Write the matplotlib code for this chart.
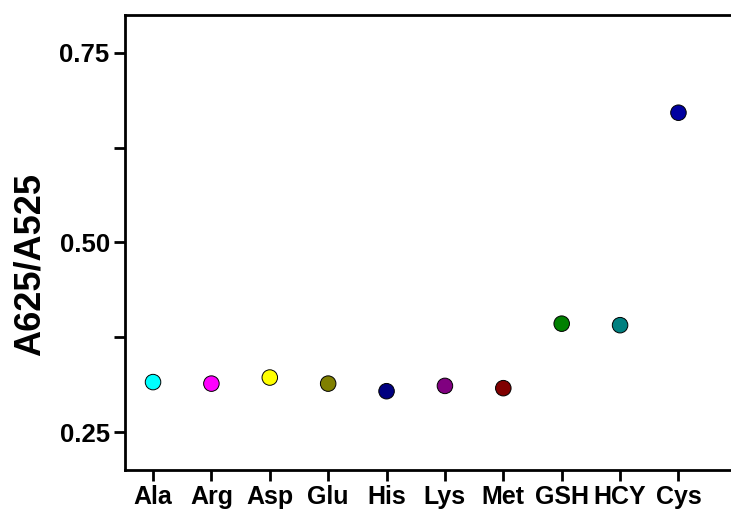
import numpy as np
import matplotlib
matplotlib.use('Agg')
import matplotlib.pyplot as plt
from matplotlib.ticker import MultipleLocator

analytes = ['Ala', 'Arg', 'Asp', 'Glu', 'His', 'Lys', 'Met', 'GSH', 'HCY', 'Cys']
ratio = [0.316, 0.314, 0.322, 0.314, 0.304, 0.311, 0.308, 0.393, 0.391, 0.671]
colors = ['#00FFFF', '#FF00FF', '#FFFF00', '#808000', '#000080',
          '#800080', '#800000', '#008000', '#008080', '#0000A0']

plt.rcParams['font.family'] = ['Liberation Sans', 'DejaVu Sans']
plt.rcParams['font.weight'] = 'bold'

fig = plt.figure(figsize=(7.31, 5.11), dpi=100)
ax = fig.add_axes([0.171, 0.080, 0.829, 0.891])

x = np.arange(len(analytes))
ax.scatter(x, ratio, s=125, c=colors, edgecolors='black', linewidths=0.7, zorder=3)

ax.set_xlim(-0.48, 9.9)
ax.set_ylim(0.2, 0.8)
ax.set_xticks(x)
ax.set_xticklabels(analytes, fontsize=18, fontweight='bold')
ax.yaxis.set_minor_locator(MultipleLocator(0.125))
ax.set_yticks([0.25, 0.5, 0.75])
ax.set_yticklabels(['0.25', '0.50', '0.75'], fontsize=18.5, fontweight='bold')
ax.set_ylabel('A625/A525', fontsize=26, fontweight='bold')
ax.yaxis.set_label_coords(-0.128, 0.452)

ax.spines['right'].set_visible(False)
for s in ['top', 'left', 'bottom']:
    ax.spines[s].set_linewidth(2)
ax.tick_params(axis='both', which='major', direction='out', length=8, width=2, pad=3)
ax.tick_params(axis='y', which='minor', direction='out', length=8, width=2)
ax.tick_params(axis='x', which='minor', bottom=False)

fig.savefig('out.png', dpi=100)
